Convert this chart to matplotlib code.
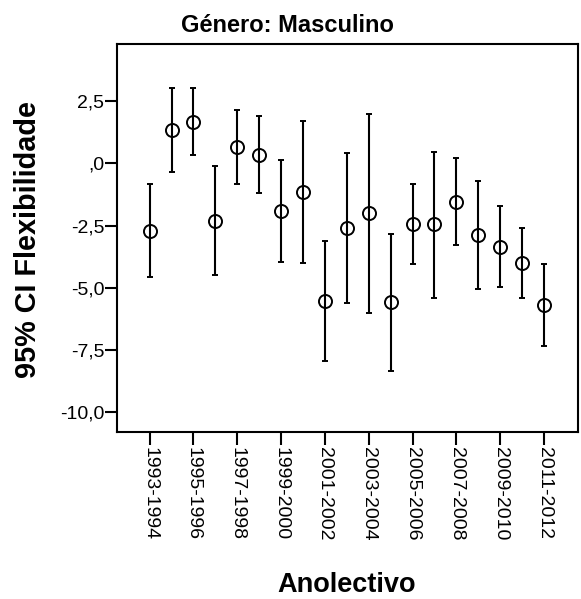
import numpy as np
import matplotlib.pyplot as plt
from matplotlib.ticker import FixedLocator, FuncFormatter

plt.rcParams['font.family'] = ['Liberation Sans', 'DejaVu Sans']

anos = ['1993-1994', '1994-1995', '1995-1996', '1996-1997', '1997-1998',
        '1998-1999', '1999-2000', '2000-2001', '2001-2002', '2002-2003',
        '2003-2004', '2004-2005', '2005-2006', '2006-2007', '2007-2008',
        '2008-2009', '2009-2010', '2010-2011', '2011-2012']
media = [-2.71, 1.34, 1.66, -2.32, 0.64, 0.35, -1.90, -1.14, -5.53, -2.60,
         -2.01, -5.58, -2.45, -2.45, -1.54, -2.88, -3.35, -4.02, -5.69]
ic_sup = [-0.82, 3.01, 3.04, -0.11, 2.13, 1.90, 0.14, 1.69, -3.11, 0.40,
          1.98, -2.84, -0.83, 0.45, 0.21, -0.71, -1.73, -2.60, -4.04]
ic_inf = [-4.58, -0.34, 0.32, -4.49, -0.82, -1.18, -3.98, -3.99, -7.95, -5.60,
          -6.00, -8.34, -4.06, -5.40, -3.29, -5.05, -4.98, -5.42, -7.34]
y_ticks = [-10.0, -7.5, -5.0, -2.5, 0.0, 2.5]

media = np.array(media)
err = [media - np.array(ic_inf), np.array(ic_sup) - media]
x = np.arange(len(anos))

fig = plt.figure(figsize=(5.81, 5.99), dpi=100)
ax = fig.add_axes([0.2009, 0.2793, 0.7939, 0.6467])

ax.errorbar(x, media, yerr=err, fmt='o', color='black', ecolor='black',
            elinewidth=1.5, capsize=2.2, capthick=2.2,
            markersize=9.4, markerfacecolor='none', markeredgewidth=1.4)

ax.set_xlim(-1.5, len(anos) - 1 + 1.55)
ax.set_ylim(-10.78, 4.78)

ax.xaxis.set_major_locator(FixedLocator(x[::2]))
ax.set_xticklabels(anos[::2], rotation=270, fontsize=14)
ax.yaxis.set_major_locator(FixedLocator(y_ticks))


def fmt_virgula(v, pos):
    s = f'{v:.1f}'.replace('.', ',')
    if s.startswith('0,'):
        s = s[1:]
    return s


ax.yaxis.set_major_formatter(FuncFormatter(fmt_virgula))
ax.tick_params(axis='both', direction='out', length=9, width=1.5,
               labelsize=14)
ax.tick_params(axis='y', pad=0)
ax.tick_params(axis='x', pad=2)
for s in ax.spines.values():
    s.set_linewidth(1.5)

fig.text(287.5 / 581, 1 - 32 / 599, 'Género: Masculino', ha='center',
         va='baseline', fontsize=17, fontweight='bold')
fig.text(36 / 581, 1 - 239 / 599, '95% CI Flexibilidade', ha='center',
         va='baseline', rotation=90, rotation_mode='anchor',
         fontsize=20.8, fontweight='bold')
fig.text(347 / 581, 1 - 592.5 / 599, 'Anolectivo', ha='center',
         va='baseline', fontsize=19.5, fontweight='bold')

fig.savefig('out.png', dpi=100)
